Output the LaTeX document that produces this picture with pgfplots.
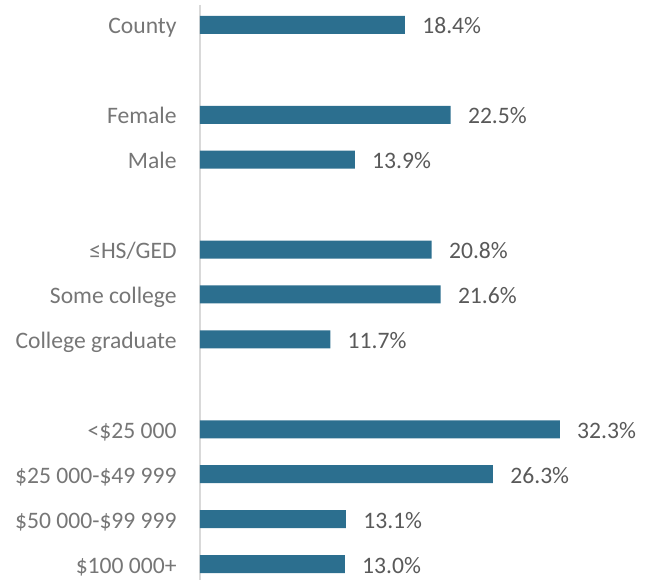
\documentclass[border=0pt]{standalone}
\usepackage{fontspec}
\setmainfont{Carlito}
\usepackage{pgfplots}
\pgfplotsset{compat=1.18}
\definecolor{barblue}{HTML}{2C6F8F}
\definecolor{labgray}{HTML}{767676}
\definecolor{valgray}{HTML}{595959}
\definecolor{linegray}{HTML}{D9D9D9}

\begin{document}
\begin{tikzpicture}
% page = 651x580 px at 0.5bp per px; axis box lower left at origin
\path[use as bounding box] (-100bp,0) rectangle (225.5bp,290bp);
\begin{axis}[
    xbar,
    x=5.57bp, y=22.46bp,
    y dir=reverse,
    xmin=0, xmax=40,
    ymin=-0.45, ymax=12.356,
    bar width=9bp,
    axis line style={draw=none},
    xtick=\empty,
    ytick={0,2,3,5,6,7,9,10,11,12},
    yticklabels={County,Female,Male,≤HS/GED,Some college,College graduate,<\$25 000,\$25 000-\$49 999,\$50 000-\$99 999,\$100 000+},
    major tick length=0pt,
    ytick style={draw=none},
    yticklabel style={anchor=east, inner sep=0pt, xshift=-11.5bp, yshift=-0.7bp,
        text height=7.6bp, text depth=0pt, font=\fontsize{11.8bp}{14bp}\selectfont, text=labgray},
    point meta=x,
    nodes near coords={\pgfmathprintnumber[assume math mode=true,fixed,fixed zerofill,precision=1]{\pgfplotspointmeta}\%},
    every node near coord/.append style={anchor=west, inner sep=0pt, xshift=8.5bp, yshift=-0.7bp,
        text height=7.6bp, text depth=0pt, font=\fontsize{11.8bp}{14bp}\selectfont, text=valgray},
    clip=false,
]
\draw[linegray, line width=1bp] (axis cs:0,-0.45) -- (axis cs:0,12.356);
\addplot[fill=barblue, draw=none] coordinates {
    (18.4,0)
    (22.5,2)
    (13.9,3)
    (20.8,5)
    (21.6,6)
    (11.7,7)
    (32.3,9)
    (26.3,10)
    (13.1,11)
    (13.0,12)
};
\end{axis}
\end{tikzpicture}
\end{document}
